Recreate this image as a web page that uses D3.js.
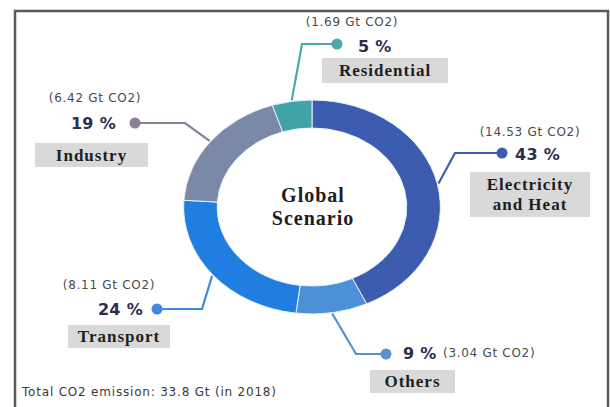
<!DOCTYPE html>
<html>
<head>
<meta charset="utf-8">
<script src="https://cdn.jsdelivr.net/npm/d3@7/dist/d3.min.js"></script>
<style>
  html, body { margin: 0; padding: 0; background: #fff; }
  svg { display: block; }
</style>
</head>
<body>
<svg id="chart" width="610" height="407"></svg>
<script>
// Global CO2 emissions by sector (2018)
const categories = ["Electricity\nand Heat", "Others", "Transport", "Industry", "Residential"];
const percents   = [43, 9, 24, 19, 5];
const gtValues   = [14.53, 3.04, 8.11, 6.42, 1.69];
const colors     = ["#3c5cb0", "#4b90d8", "#1f7ee0", "#7a89a8", "#3fa3a7"];
const lineColors = ["#3c5cb0", "#5a93cc", "#3f8ae0", "#8a8096", "#4aa9ac"];
const totalNote  = "Total CO2 emission: 33.8 Gt (in 2018)";

// Label placement for each sector (same order as categories)
const layout = [
  { elbow: [455, 153], dot: [502, 153], side: "right", pct: [515, 154], gt: [530, 132], gtAnchor: "middle", box: [470, 172, 120, 45] },
  { elbow: [356, 354], dot: [386, 354], side: "right", pct: [403, 353], gt: [443, 353], gtAnchor: "start",  box: [370, 370, 85, 23] },
  { elbow: [202, 309], dot: [157, 309], side: "left",  pct: [143, 309], gt: [109, 285], gtAnchor: "middle", box: [68, 325, 102, 23] },
  { elbow: [185, 123], dot: [135, 123], side: "left",  pct: [116, 123], gt: [95, 98],   gtAnchor: "middle", box: [35, 143, 113, 24] },
  { elbow: [302, 44],  dot: [337, 44],  side: "right", pct: [358, 46],  gt: [352, 22],  gtAnchor: "middle", box: [322, 58, 126, 25] }
];

const svg = d3.select("#chart");
const cx = 312, cy = 207, sx = 1.2;
const outerR = 107, innerR = 79;

// Frame
svg.append("path")
  .attr("d", "M15,407 L15,11 L608,11 L608,407")
  .attr("fill", "none")
  .attr("stroke", "#595959")
  .attr("stroke-width", 2.5);

const pie = d3.pie().sort(null).value(d => d)(percents);
const arc = d3.arc().innerRadius(innerR).outerRadius(outerR);

const ring = svg.append("g").attr("transform", `translate(${cx},${cy}) scale(${sx},1)`);
ring.selectAll("path")
  .data(pie)
  .join("path")
  .attr("d", arc)
  .attr("fill", (d, i) => colors[i])
  .attr("stroke", "#e8f1fb")
  .attr("stroke-width", 1)
  .attr("vector-effect", "non-scaling-stroke");

// Leader lines: from the ring edge to an elbow, then to the dot
const leaders = svg.append("g");
pie.forEach((d, i) => {
  const a = (d.startAngle + d.endAngle) / 2;
  const r = outerR + 1;
  const p0 = [cx + sx * r * Math.sin(a), cy - r * Math.cos(a)];
  const L = layout[i];
  leaders.append("path")
    .attr("d", d3.line()([p0, L.elbow, L.dot]))
    .attr("fill", "none")
    .attr("stroke", lineColors[i])
    .attr("stroke-width", 2.2);
  leaders.append("circle")
    .attr("cx", L.dot[0]).attr("cy", L.dot[1]).attr("r", 5.5)
    .attr("fill", lineColors[i]);
});

// Percent, tonnage and category labels
const labels = svg.append("g");
percents.forEach((p, i) => {
  const L = layout[i];
  labels.append("text")
    .attr("x", L.pct[0]).attr("y", L.pct[1])
    .attr("dy", "0.36em")
    .attr("text-anchor", L.side === "left" ? "end" : "start")
    .attr("font-family", "'DejaVu Sans', sans-serif")
    .attr("font-weight", "bold")
    .attr("font-size", 16)
    .attr("letter-spacing", 0.3)
    .attr("fill", "#2c2e4e")
    .text(`${p} %`);

  labels.append("text")
    .attr("x", L.gt[0]).attr("y", L.gt[1])
    .attr("dy", "0.36em")
    .attr("text-anchor", L.gtAnchor)
    .attr("font-family", "'DejaVu Sans', sans-serif")
    .attr("font-size", 12)
    .attr("letter-spacing", 0.7)
    .attr("fill", "#4a4a4a")
    .text(`(${gtValues[i].toFixed(2)} Gt CO2)`);

  const [bx, by, bw, bh] = L.box;
  labels.append("rect")
    .attr("x", bx).attr("y", by).attr("width", bw).attr("height", bh)
    .attr("fill", "#d9d9d9");
  const lines = categories[i].split("\n");
  const t = labels.append("text")
    .attr("text-anchor", "middle")
    .attr("font-family", "'Liberation Serif', 'Times New Roman', serif")
    .attr("font-weight", "bold")
    .attr("font-size", 17)
    .attr("letter-spacing", 1)
    .attr("fill", "#1e1e1e");
  const lh = 20;
  lines.forEach((ln, k) => {
    t.append("tspan")
      .attr("x", bx + bw / 2)
      .attr("y", by + bh / 2 + (k - (lines.length - 1) / 2) * lh)
      .attr("dy", "0.35em")
      .text(ln);
  });
});

// Centre title
const title = svg.append("text")
  .attr("text-anchor", "middle")
  .attr("font-family", "'Liberation Serif', 'Times New Roman', serif")
  .attr("font-weight", "bold")
  .attr("font-size", 20)
  .attr("letter-spacing", 1)
  .attr("fill", "#1e1e1e");
["Global", "Scenario"].forEach((w, k) => {
  title.append("tspan").attr("x", cx + 1).attr("y", 195 + k * 23).attr("dy", "0.35em").text(w);
});

// Footnote
svg.append("text")
  .attr("x", 22).attr("y", 392)
  .attr("dy", "0.36em")
  .attr("font-family", "'DejaVu Sans', sans-serif")
  .attr("font-size", 12)
  .attr("letter-spacing", 0.8)
  .attr("fill", "#3a3a3a")
  .text(totalNote);
</script>
</body>
</html>
